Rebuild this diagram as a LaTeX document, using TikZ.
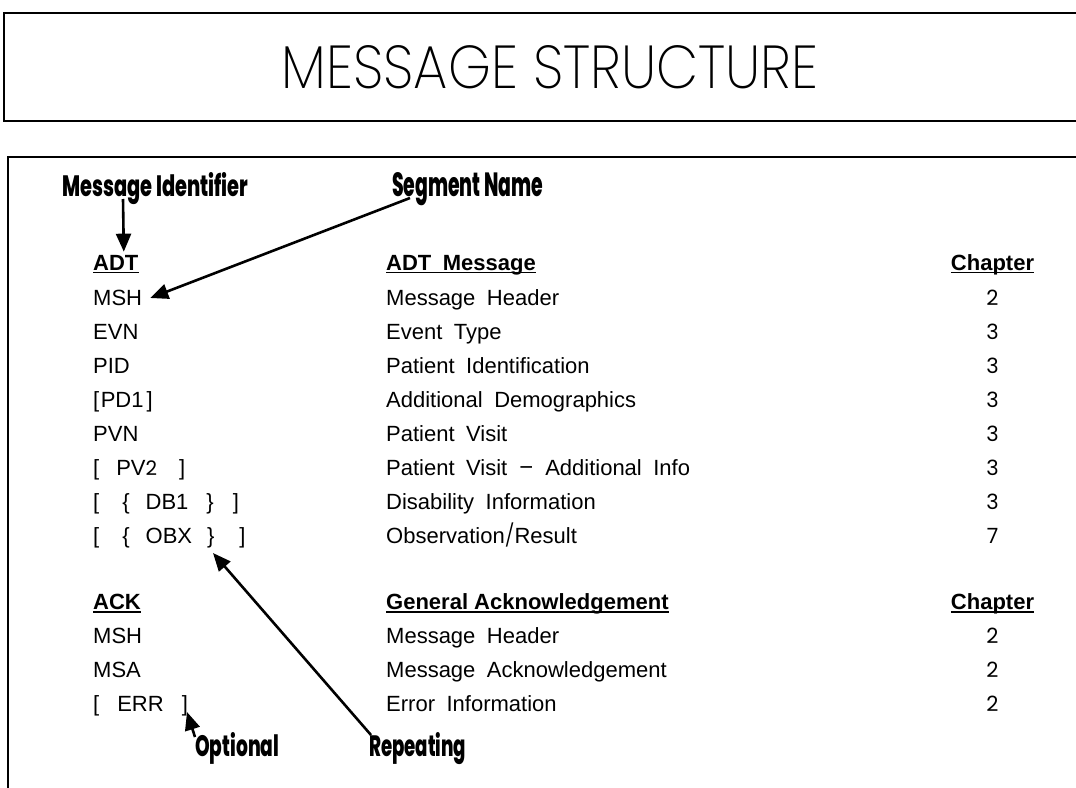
\documentclass[tikz,border=0pt]{standalone}
\usepackage{fontspec}
\setmainfont{Liberation Sans}
\newfontfamily\geofont{Poppins}
\newfontfamily\geolight{Poppins Light}
\newfontfamily\geothin{Poppins ExtraLight}
\newfontfamily\geoheavy{Poppins ExtraBold}
\usetikzlibrary{arrows.meta}

% wide word spacing used throughout the table
\newcommand\widesp{\spaceskip=11.5pt\relax}
\newcommand\gap[1]{\hspace*{#1pt}}

\tikzset{
  frame/.style={line width=2.4pt},
  cell/.style={inner sep=0pt, anchor=base west, font=\fontsize{22}{22}\selectfont\widesp},
  head/.style={inner sep=0pt, anchor=base west, font=\fontsize{22}{22}\selectfont\bfseries},
  chaphead/.style={inner sep=0pt, anchor=base, font=\fontsize{22}{22}\selectfont\bfseries},
  chap/.style={inner sep=0pt, anchor=base, font=\geofont\fontsize{21}{21}\selectfont},
  callout/.style={inner sep=0pt, anchor=base west},
  pointer/.style={line width=2.6pt, -{Triangle[length=18pt,width=15pt]}},
  ulbar/.style={line width=1.5pt},
}

\begin{document}
\begin{tikzpicture}[x=1pt,y=-1pt]
\useasboundingbox (0,0) rectangle (1076,787);
\clip (0,0) rectangle (1076,787);

% title panel
\draw[frame] (1090,13) -- (4,13) -- (4,121) -- (1090,121);
\node[inner sep=0pt, anchor=base] (title) at (550,88)
  {\resizebox{536pt}{43pt}{\geothin MESSAGE STRUCTURE}};

% body panel
\draw[frame] (1090,157) -- (8,157) -- (8,800);

% callout labels
\node[callout] (lblid) at (62,196) {\resizebox{186pt}{24pt}{\geoheavy Message Identifier}};
\node[callout] (lblseg) at (392,196) {\resizebox{151pt}{24pt}{\geoheavy Segment Name}};
\node[callout] (lblopt) at (195,756) {\resizebox{84pt}{24pt}{\geoheavy Optional}};
\node[callout] (lblrep) at (369,756) {\resizebox{97pt}{24pt}{\geoheavy Repeating}};

% ADT message
\node[head] (h1) at (93,270) {ADT};
\node[head] (h2) at (386,270) {ADT\widesp{} Message};
\node[chaphead] (h3) at (992.5,270) {Chapter};

\node[cell] (s1) at (93,305.5) {MSH};
\node[cell] (s2) at (93,339.5) {EVN};
\node[cell] (s3) at (93,373.5) {PID};
\node[cell] (s4) at (93,407.5) {[\kern1.5pt PD1\kern3pt]};
\node[cell] (s5) at (93,441.5) {PVN};
\node[cell] (s6) at (93,475.5) {[\gap{17}PV{\geofont\fontsize{20}{20}\selectfont 2}\gap{22}]};
\node[cell] (s7) at (93,509.5) {[\gap{23}\{\gap{16}DB1\gap{18}\}\gap{19}]};
\node[cell] (s8) at (93,543.5) {[\gap{23}\{\gap{16}OBX\gap{15}\}\gap{25}]};

\node[cell] (d1) at (386,305.5) {Message Header};
\node[cell] (d2) at (386,339.5) {Event Type};
\node[cell] (d3) at (386,373.5) {Patient Identification};
\node[cell] (d4) at (386,407.5) {Additional Demographics};
\node[cell] (d5) at (386,441.5) {Patient Visit};
\node[cell] (d6) at (386,475.5) {Patient Visit {\geofont –} Additional Info};
\node[cell] (d7) at (386,509.5) {Disability Information};
\node[cell] (d8) at (386,543.5) {Observation{\geolight /}Result};

\node[chap] (c1) at (992.5,305.5) {2};
\node[chap] (c2) at (992.5,339.5) {3};
\node[chap] (c3) at (992.5,373.5) {3};
\node[chap] (c4) at (992.5,407.5) {3};
\node[chap] (c5) at (992.5,441.5) {3};
\node[chap] (c6) at (992.5,475.5) {3};
\node[chap] (c7) at (992.5,509.5) {3};
\node[chap] (c8) at (992.5,543.5) {7};

% ACK message
\node[head] (h4) at (93,609.5) {ACK};
\node[head] (h5) at (386,609.5) {General Acknowledgement};
\node[chaphead] (h6) at (992.5,609.5) {Chapter};

\node[cell] (a1) at (93,643.5) {MSH};
\node[cell] (a2) at (93,677.5) {MSA};
\node[cell] (a3) at (93,711.5) {[\gap{18}ERR\gap{18}]};

\node[cell] (e1) at (386,643.5) {Message Header};
\node[cell] (e2) at (386,677.5) {Message Acknowledgement};
\node[cell] (e3) at (386,711.5) {Error Information};

\node[chap] (k1) at (992.5,643.5) {2};
\node[chap] (k2) at (992.5,677.5) {2};
\node[chap] (k3) at (992.5,711.5) {2};

% underlined headings
\foreach \n in {h1,h2,h3,h4,h5,h6}
  \draw[ulbar] ([yshift=-2.5pt]\n.base west) -- ([yshift=-2.5pt]\n.base east);

% pointers
\draw[pointer] ([xshift=61pt,yshift=-3pt]lblid.base west) -- ([xshift=8pt,yshift=3pt]h1.north);
\draw[pointer] ([xshift=18pt,yshift=-2pt]lblseg.base west) -- ([xshift=8pt,yshift=7.5pt]s1.base east);
\draw[pointer] ([xshift=2pt,yshift=21pt]lblrep.base west) -- ([xshift=120pt,yshift=-9.5pt]s8.base west);
\draw[pointer] ([xshift=0pt,yshift=19pt]lblopt.base west) -- ([xshift=94pt,yshift=-0.5pt]a3.base west);
\end{tikzpicture}
\end{document}
